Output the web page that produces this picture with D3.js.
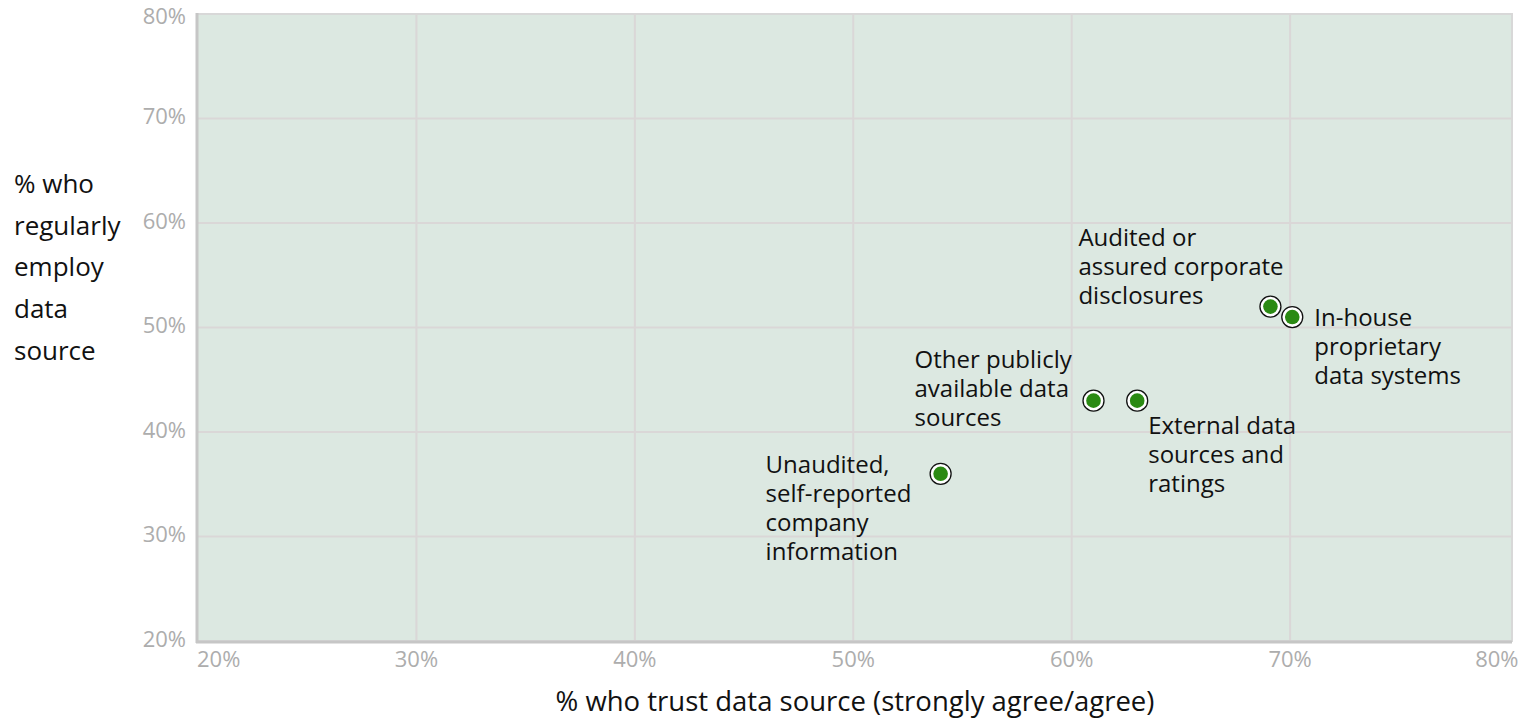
<!DOCTYPE html>
<html>
<head>
<meta charset="utf-8">
<script src="https://cdn.jsdelivr.net/npm/d3@7"></script>
<style>
  body { margin: 0; background: #fff; }
  svg { display: block; }
</style>
</head>
<body>
<svg id="chart" width="1521" height="720"></svg>
<script>
// data
const sources = [
  "Unaudited,\nself-reported\ncompany\ninformation",
  "Other publicly\navailable data\nsources",
  "External data\nsources and\nratings",
  "Audited or\nassured corporate\ndisclosures",
  "In-house\nproprietary\ndata systems"
];
const trust = [54.0, 61.0, 63.0, 69.1, 70.1];
const employ = [36, 43, 43, 52, 51];
const xTicks = [20, 30, 40, 50, 60, 70, 80];
const yTicks = [20, 30, 40, 50, 60, 70, 80];
const xTitle = "% who trust data source (strongly agree/agree)";
const yTitle = ["% who", "regularly", "employ", "data", "source"];

// where each label sits relative to its point (left edge, first line centre)
const labelPlace = [
  { dx: -175, dy: -7 },
  { dx: -179, dy: -39 },
  { dx: 11, dy: 27 },
  { dx: -192, dy: -67 },
  { dx: 22, dy: 3 }
];

const margin = { top: 14, right: 12, bottom: 79, left: 198 };

const x = d3.scaleLinear().domain([20, 80]).range([margin.left, 1508.5]);
const y = d3.scaleLinear().domain([20, 80]).range([641, margin.top]);

const svg = d3.select("#chart");
const sans = "'Open Sans', sans-serif";

// plot background + light frame
svg.append("rect")
  .attr("x", margin.left - 1).attr("y", margin.top)
  .attr("width", 1512 - margin.left + 1).attr("height", 641 - margin.top)
  .attr("fill", "#dce8e1")
  .attr("stroke", "#d8d8d8").attr("stroke-width", 2);

// gridlines
svg.append("g").selectAll("line").data(xTicks.slice(1, -1)).join("line")
  .attr("x1", d => x(d)).attr("x2", d => x(d))
  .attr("y1", margin.top).attr("y2", 641)
  .attr("stroke", "#dad7d7").attr("stroke-width", 2);
svg.append("g").selectAll("line").data(yTicks.slice(1, -1)).join("line")
  .attr("x1", margin.left).attr("x2", 1512)
  .attr("y1", d => y(d)).attr("y2", d => y(d))
  .attr("stroke", "#dad7d7").attr("stroke-width", 2);

// axis lines (left and bottom)
svg.append("line")
  .attr("x1", margin.left - 1).attr("x2", margin.left - 1)
  .attr("y1", margin.top - 1).attr("y2", 643)
  .attr("stroke", "#c6c6c6").attr("stroke-width", 3);
svg.append("line")
  .attr("x1", margin.left - 2).attr("x2", 1512)
  .attr("y1", 642).attr("y2", 642)
  .attr("stroke", "#c6c6c6").attr("stroke-width", 3);

// y tick labels
svg.append("g").selectAll("text").data(yTicks).join("text")
  .attr("x", 186)
  .attr("y", d => d === 80 ? y(d) + 4 : y(d))
  .attr("text-anchor", "end")
  .attr("dominant-baseline", "middle")
  .attr("font-family", sans).attr("font-size", 22)
  .attr("fill", "#adadad")
  .text(d => d + "%");

// x tick labels, ends pulled inside
svg.append("g").selectAll("text").data(xTicks).join("text")
  .attr("x", (d, i) => i === 0 ? x(d) - 1 : i === xTicks.length - 1 ? x(d) + 10 : x(d))
  .attr("y", 661)
  .attr("text-anchor", (d, i) => i === 0 ? "start" : i === xTicks.length - 1 ? "end" : "middle")
  .attr("dominant-baseline", "middle")
  .attr("font-family", sans).attr("font-size", 22)
  .attr("fill", "#adadad")
  .text(d => d + "%");

// axis titles
svg.append("text")
  .attr("x", 855).attr("y", 704)
  .attr("text-anchor", "middle")
  .attr("dominant-baseline", "middle")
  .attr("font-family", sans).attr("font-size", 27.5)
  .attr("fill", "#111")
  .text(xTitle);

svg.append("g").selectAll("text").data(yTitle).join("text")
  .attr("x", 14)
  .attr("y", (d, i) => 186 + i * 41.7)
  .attr("dominant-baseline", "middle")
  .attr("font-family", sans).attr("font-size", 26)
  .attr("fill", "#111")
  .text(d => d);

// points
const pts = svg.append("g").selectAll("g").data(trust).join("g")
  .attr("transform", (d, i) => `translate(${x(d)},${y(employ[i])})`);
pts.append("circle").attr("r", 10.5)
  .attr("fill", "#fff").attr("stroke", "#111").attr("stroke-width", 1.3);
pts.append("circle").attr("r", 7.3).attr("fill", "#2b8a13");

// labels
sources.forEach((s, i) => {
  const p = labelPlace[i];
  const t = svg.append("text")
    .attr("font-family", sans).attr("font-size", 24)
    .attr("fill", "#111");
  s.split("\n").forEach((line, j) => {
    t.append("tspan")
      .attr("x", x(trust[i]) + p.dx)
      .attr("y", y(employ[i]) + p.dy + j * 28.8)
      .attr("dominant-baseline", "middle")
      .text(line);
  });
});
</script>
</body>
</html>
